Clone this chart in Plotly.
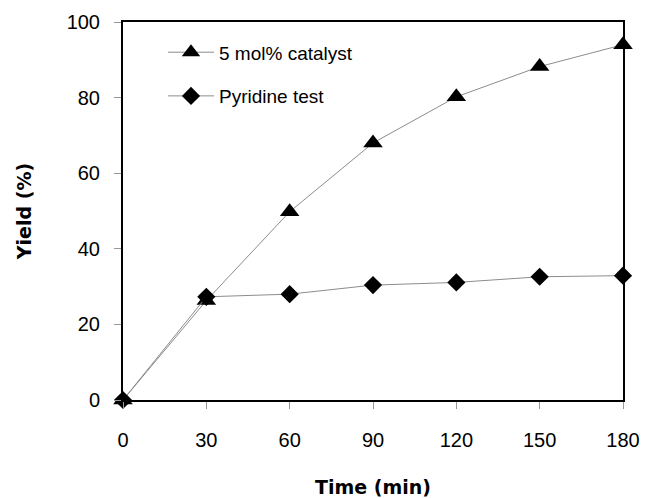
import plotly.graph_objects as go

# Reaction time (min) and yields (%)
time_min = [0, 30, 60, 90, 120, 150, 180]
yield_catalyst = [0, 26.3, 49.8, 68.0, 80.2, 88.2, 94.0]
yield_pyridine = [0, 27.3, 28.0, 30.4, 31.1, 32.6, 32.9]

x_ticks = [0, 30, 60, 90, 120, 150, 180]
y_ticks = [0, 20, 40, 60, 80, 100]

FONT = "Liberation Sans, Arial, sans-serif"
TITLE_FONT = dict(family="DejaVu Sans", size=19, color="black")

fig = go.Figure()

fig.add_trace(go.Scatter(
    x=time_min, y=yield_catalyst,
    mode="lines+markers",
    name="5 mol% catalyst",
    legendgroup="a",
    line=dict(color="#8c8c8c", width=1),
    marker=dict(symbol="triangle-up", size=17, color="black"),
    cliponaxis=False,
))

fig.add_trace(go.Scatter(
    x=time_min, y=yield_pyridine,
    mode="lines+markers",
    name="Pyridine test",
    legendgroup="b",
    line=dict(color="#8c8c8c", width=1),
    marker=dict(symbol="diamond", size=14, color="black"),
    cliponaxis=False,
))

axis_common = dict(
    showgrid=False,
    zeroline=False,
    showline=True,
    linecolor="black",
    linewidth=2,
    mirror=True,
    ticks="outside",
    ticklen=7,
    tickcolor="#999999",
    tickfont=dict(family=FONT, size=20, color="black"),
    automargin=False,
)

fig.update_layout(
    width=645, height=498,
    paper_bgcolor="white",
    plot_bgcolor="white",
    margin=dict(l=123, r=22, t=22, b=98),
    font=dict(family=FONT, color="black"),
    xaxis=dict(
        range=[0, 180],
        tickvals=x_ticks,
        ticklabelstandoff=14,
        title=dict(text="<b>Time (min)</b>", font=TITLE_FONT, standoff=35),
        **axis_common,
    ),
    yaxis=dict(
        range=[0, 100],
        tickvals=y_ticks,
        ticklabelstandoff=10,
        title=dict(text="<b>Yield (%)</b>", font=TITLE_FONT, standoff=30),
        **axis_common,
    ),
    legend=dict(
        x=0.08, y=0.97,
        xanchor="left", yanchor="top",
        bgcolor="rgba(0,0,0,0)",
        font=dict(family=FONT, size=19),
        itemwidth=46,
        tracegroupgap=16,
    ),
)

# drop the default page margin so the figure fills the window
fig.write_html(
    "out.html",
    config={"displayModeBar": False},
    post_script="document.body.style.margin='0';document.body.style.overflow='hidden';",
)
